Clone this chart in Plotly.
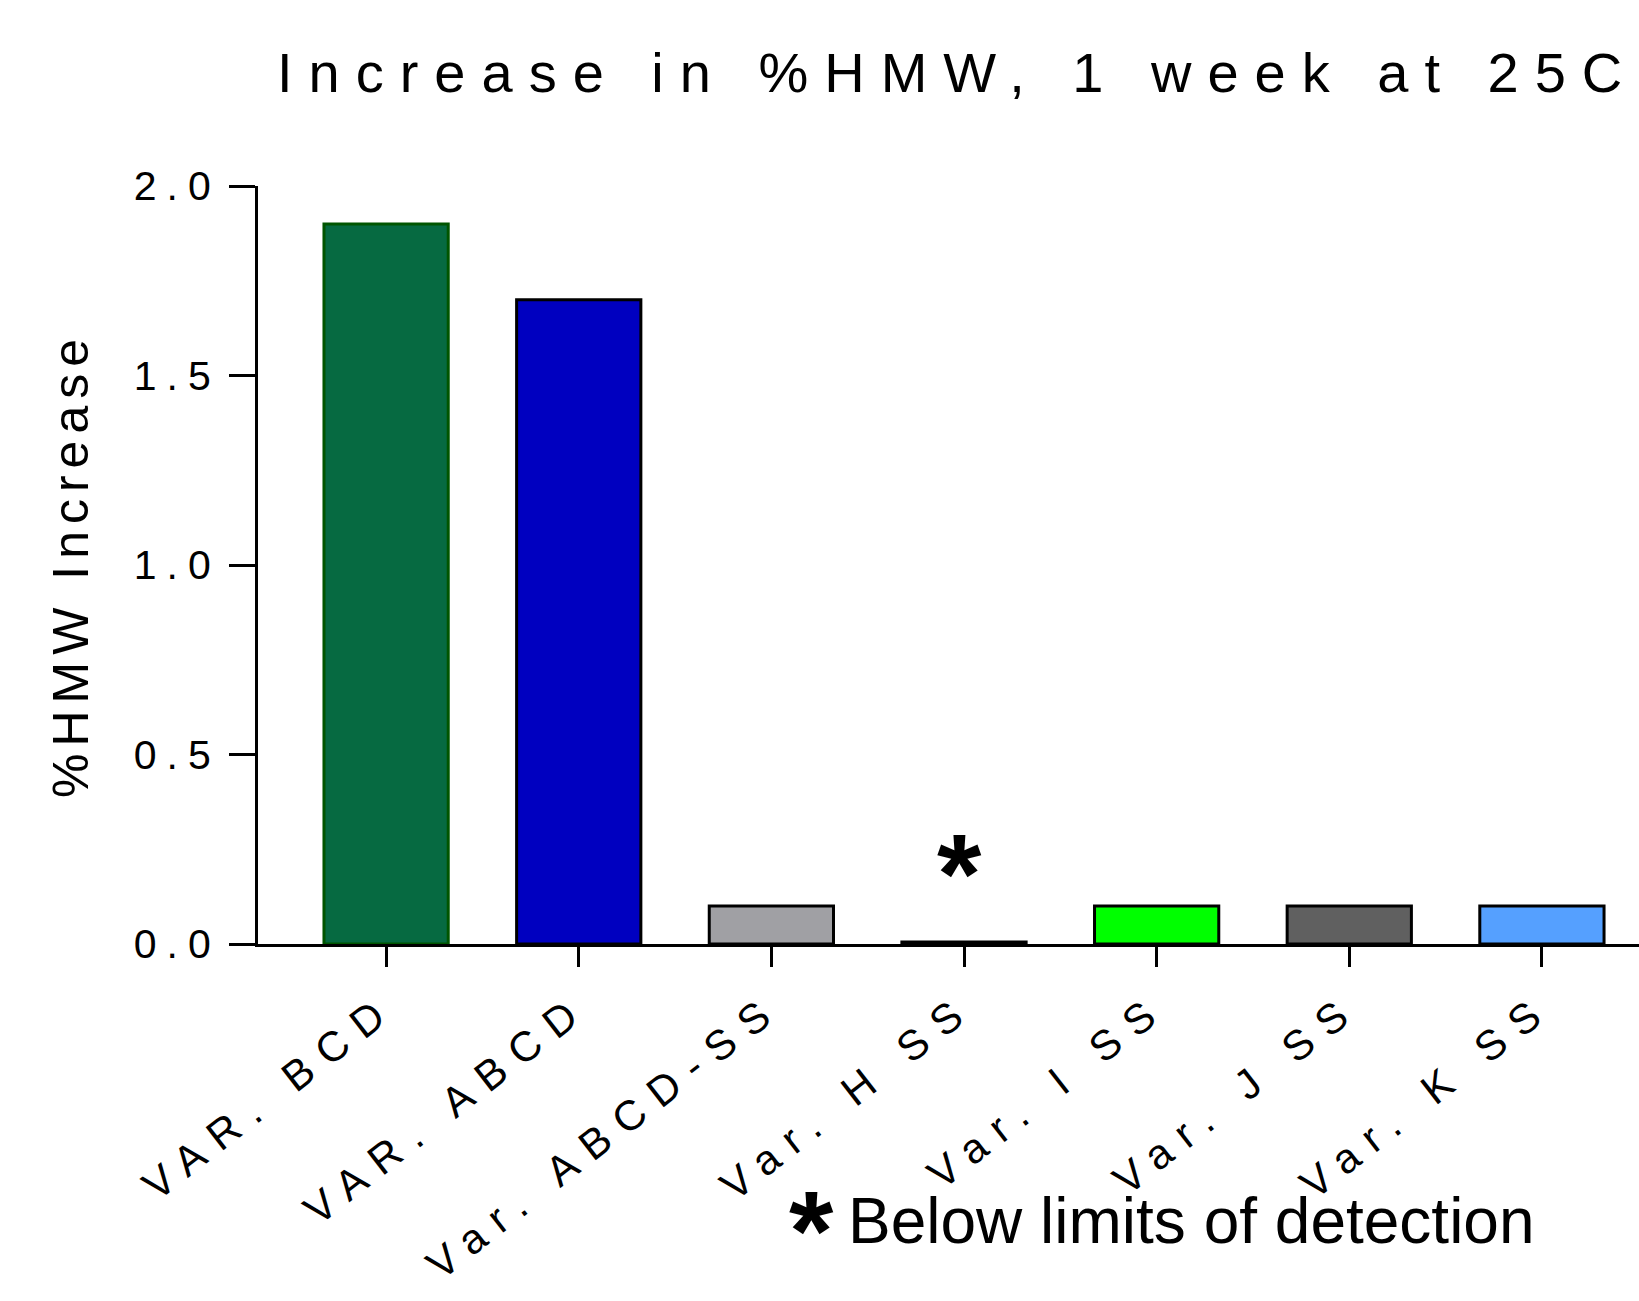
import plotly.graph_objects as go

categories = ["VAR. BCD", "VAR. ABCD", "Var. ABCD-SS", "Var. H SS", "Var. I SS", "Var. J SS", "Var. K SS"]
values = [1.9, 1.7, 0.1, 0.005, 0.1, 0.1, 0.1]
fill_colors = ["#066A41", "#0000C0", "#A0A0A4", "#000000", "#00FF00", "#606060", "#55A0FF"]
line_colors = ["#005500", "#000000", "#000000", "#000000", "#000000", "#000000", "#000000"]
y_ticks = [0, 0.5, 1.0, 1.5, 2.0]
y_tick_labels = ["0.0", "0.5", "1.0", "1.5", "2.0"]
title_text = "Increase in %HMW, 1 week at 25C"
y_title = "%HMW Increase"
footnote = "Below limits of detection"
below_lod_category = "Var. H SS"

W, H = 1639, 1301
L, R, T, B = 258, 0, 186, 357
PW, PH = W - L - R, H - T - B
FONT = "Liberation Sans, Arial, sans-serif"


def spaced(txt, px):
    return f'<span style="letter-spacing:{px}px">{txt}</span>'


fig = go.Figure()
fig.add_trace(go.Bar(
    x=categories, y=values, width=0.645,
    marker=dict(color=fill_colors, line=dict(color=line_colors, width=3)),
    showlegend=False,
))

fig.update_layout(
    width=W, height=H,
    margin=dict(l=L, r=R, t=T, b=B, pad=0, autoexpand=False),
    paper_bgcolor="white", plot_bgcolor="white",
    font=dict(family=FONT, color="black"),
    title=dict(
        text=spaced(title_text, 16),
        font=dict(size=56, family=FONT, color="black"),
        x=277 / W, xref="container", xanchor="left",
        y=1 - 72 / H, yref="container", yanchor="middle",
    ),
)

fig.update_xaxes(
    type="category", automargin=False,
    range=[-0.665, 6.504],
    tickvals=categories,
    ticktext=[spaced(c, 14) for c in categories],
    tickangle=-38,
    tickfont=dict(size=42, family=FONT, color="black"),
    showline=True, linecolor="black", linewidth=3,
    ticks="outside", ticklen=20, tickwidth=3, tickcolor="black",
    showgrid=False, zeroline=False,
)

fig.update_yaxes(
    automargin=False,
    range=[0, 2.0],
    tickvals=y_ticks,
    ticktext=[spaced(t, 10) for t in y_tick_labels],
    tickfont=dict(size=41, family=FONT, color="black"),
    showline=True, linecolor="black", linewidth=3,
    ticks="outside", ticklen=26, tickwidth=3, tickcolor="black",
    showgrid=False, zeroline=False,
    title=dict(text=spaced(y_title, 7), font=dict(size=50, family=FONT, color="black"), standoff=30),
)

# asterisk above the bar below LOD
fig.add_annotation(
    x=below_lod_category, y=0.187, xref="x", yref="y", xshift=-5,
    text="<b>*</b>", showarrow=False,
    font=dict(size=114, family=FONT, color="black"),
    xanchor="center", yanchor="middle",
)

# footnote
fig.add_annotation(
    x=(811 - L) / PW, y=(944 - 1230) / PH, xref="paper", yref="paper",
    text="<b>*</b>", showarrow=False,
    font=dict(size=114, family=FONT, color="black"),
    xanchor="center", yanchor="middle",
)
fig.add_annotation(
    x=(846 - L) / PW, y=(944 - 1221) / PH, xref="paper", yref="paper",
    text=footnote, showarrow=False,
    font=dict(size=64, family=FONT, color="black"),
    xanchor="left", yanchor="middle",
)

fig.write_html("out.html", config={"displayModeBar": False},
               post_script="document.body.style.margin='0';")
